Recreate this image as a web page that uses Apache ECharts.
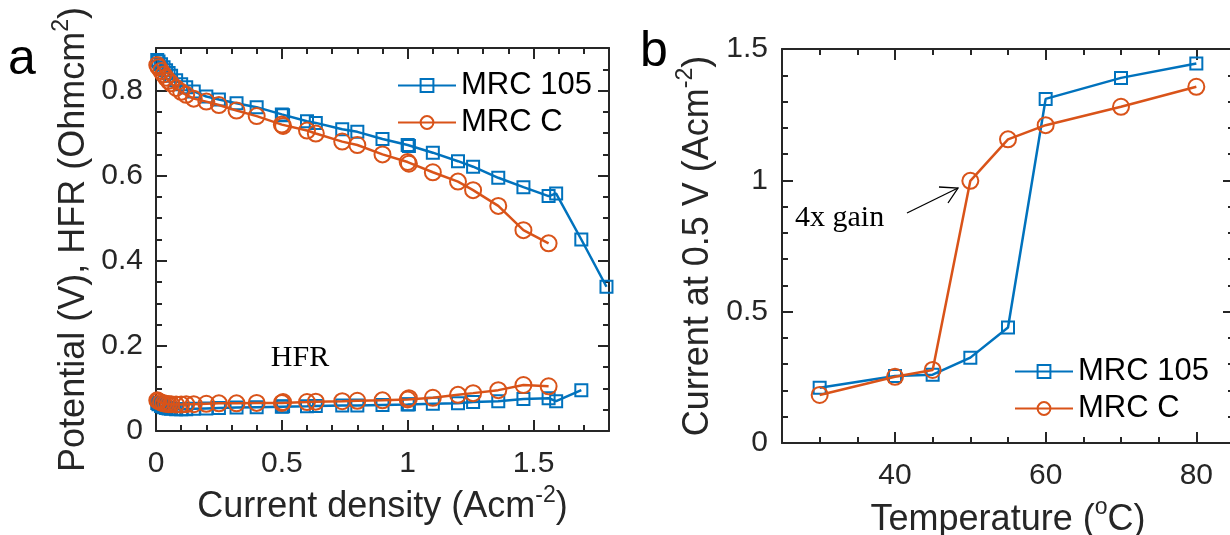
<!DOCTYPE html>
<html><head><meta charset="utf-8">
<script src="https://cdn.jsdelivr.net/npm/echarts@6/dist/echarts.min.js"></script>
<style>html,body{margin:0;padding:0;background:#fff}#c{width:1230px;height:535px}</style>
</head><body><div id="c"></div>
<script>
// ---------- data: panel a (polarization + HFR) ----------
const j105 = [0.005,0.01,0.02,0.03,0.04,0.05,0.06,0.08,0.1,0.12,0.15,0.2,0.25,0.32,0.4,0.5,0.505,0.6,0.635,0.74,0.8,0.9,1.0,1.005,1.1,1.2,1.26,1.36,1.46,1.56,1.59,1.69,1.79];
const v105 = [0.872,0.868,0.862,0.855,0.848,0.841,0.835,0.824,0.815,0.808,0.798,0.786,0.779,0.770,0.761,0.744,0.742,0.728,0.724,0.709,0.703,0.686,0.672,0.670,0.654,0.634,0.621,0.595,0.573,0.552,0.558,0.450,0.339];
const jHfr105 = [0.005,0.01,0.02,0.03,0.04,0.05,0.06,0.08,0.1,0.12,0.15,0.2,0.25,0.32,0.4,0.5,0.505,0.6,0.635,0.74,0.8,0.9,1.0,1.005,1.1,1.2,1.26,1.36,1.46,1.56,1.59,1.69];
const hfr105 = [0.066,0.063,0.059,0.056,0.054,0.053,0.052,0.051,0.051,0.051,0.052,0.053,0.054,0.055,0.056,0.057,0.058,0.058,0.059,0.060,0.060,0.061,0.062,0.063,0.064,0.065,0.068,0.070,0.075,0.077,0.070,0.096];
const jC = [0.005,0.01,0.02,0.03,0.04,0.05,0.06,0.08,0.1,0.12,0.15,0.2,0.25,0.32,0.4,0.5,0.505,0.6,0.635,0.74,0.8,0.9,1.0,1.005,1.1,1.2,1.26,1.36,1.46,1.56];
const vC = [0.860,0.855,0.846,0.838,0.830,0.823,0.817,0.806,0.797,0.790,0.781,0.774,0.766,0.753,0.740,0.720,0.717,0.706,0.699,0.680,0.672,0.650,0.632,0.628,0.608,0.586,0.566,0.529,0.472,0.441];
const hfrC = [0.072,0.070,0.067,0.065,0.064,0.063,0.063,0.062,0.062,0.063,0.063,0.064,0.065,0.065,0.066,0.066,0.068,0.068,0.069,0.070,0.071,0.072,0.074,0.077,0.078,0.085,0.089,0.096,0.108,0.105];
// ---------- data: panel b (current at 0.5 V vs temperature) ----------
const temps = [30,40,45,50,55,60,70,80];
const i105 = [0.21,0.255,0.26,0.325,0.44,1.31,1.39,1.445];
const iC = [0.183,0.252,0.278,0.998,1.156,1.21,1.28,1.356];
// ---------- ticks ----------
const aXMajor = [0,0.5,1,1.5];
const aXMinor = [0.1,0.2,0.3,0.4,0.6,0.7,0.8,0.9,1.1,1.2,1.3,1.4,1.6,1.7];
const aYMajor = [0,0.2,0.4,0.6,0.8];
const aYMinor = [0.05,0.1,0.15,0.25,0.3,0.35,0.45,0.5,0.55,0.65,0.7,0.75,0.85];
const bXMajor = [40,60,80];
const bXMinor = [30,35,45,50,55,65,70,75];
const bYMajor = [0,0.5,1,1.5];
const bYMinor = [0.1,0.2,0.3,0.4,0.6,0.7,0.8,0.9,1.1,1.2,1.3,1.4];
const names = ['MRC 105','MRC C'];

const AX = '#262626';
const BLUE = '#0072BD', ORANGE = '#D95319';
const SANS = 'Liberation Sans';
const pair = (xs, ys) => xs.map((x, i) => [x, ys[i]]);
const supRich = {
  m: { fontSize: 36, lineHeight: 40, color: AX, fontFamily: SANS },
  s: { fontSize: 23, lineHeight: 23, padding: [0, 0, 24, 0], color: AX, fontFamily: SANS }
};

function ax(grid, min, max, pos, ticks, len, opts) {
  opts = opts || {};
  const o = {
    type: 'value', gridIndex: grid, min: min, max: max, position: pos,
    axisLine: { show: !!opts.line, onZero: false, lineStyle: { color: AX, width: 2 } },
    axisTick: { show: true, inside: true, length: len, customValues: ticks, lineStyle: { color: AX, width: 2 } },
    axisLabel: { show: !!opts.labels, customValues: ticks, fontSize: 30, color: AX, fontFamily: SANS, margin: opts.margin || 14 },
    splitLine: { show: false }, axisPointer: { show: false }
  };
  if (opts.name) {
    o.name = opts.name; o.nameLocation = 'middle'; o.nameGap = opts.nameGap;
    o.nameTextStyle = { fontSize: 36, color: AX, fontFamily: SANS, rich: supRich };
  }
  return o;
}

const xAxis = [
  ax(0, 0, 1.8, 'bottom', aXMajor, 11, { line: true, labels: true, margin: 18, name: '{m|Current density (Acm}{s|-2}{m|)}', nameGap: 50 }),
  ax(0, 0, 1.8, 'bottom', aXMinor, 6),
  ax(0, 0, 1.8, 'top', aXMajor, 11, { line: true }),
  ax(0, 0, 1.8, 'top', aXMinor, 6),
  ax(1, 25, 85, 'bottom', bXMajor, 11, { line: true, labels: true, margin: 18, name: '{m|Temperature (}{s|o}{m|C)}', nameGap: 57 }),
  ax(1, 25, 85, 'bottom', bXMinor, 6),
  ax(1, 25, 85, 'top', bXMajor, 11, { line: true }),
  ax(1, 25, 85, 'top', bXMinor, 6)
];
const yAxis = [
  ax(0, 0, 0.9, 'left', aYMajor, 11, { line: true, labels: true, margin: 13, name: '{m|Potential (V), HFR (Ohmcm}{s|2}{m|)}', nameGap: 60 }),
  ax(0, 0, 0.9, 'left', aYMinor, 6),
  ax(0, 0, 0.9, 'right', aYMajor, 11, { line: true }),
  ax(0, 0, 0.9, 'right', aYMinor, 6),
  ax(1, 0, 1.5, 'left', bYMajor, 11, { line: true, labels: true, margin: 14, name: '{m|Current at 0.5 V (Acm}{s|-2}{m|)}', nameGap: 64 }),
  ax(1, 0, 1.5, 'left', bYMinor, 6),
  ax(1, 0, 1.5, 'right', bYMajor, 11, { line: true }),
  ax(1, 0, 1.5, 'right', bYMinor, 6)
];

function ser(name, data, xi, yi, isC) {
  const c = isC ? ORANGE : BLUE;
  return {
    name: name, type: 'line', xAxisIndex: xi, yAxisIndex: yi, data: data,
    symbol: isC ? 'circle' : 'rect', symbolSize: isC ? 16 : 12,
    showSymbol: true, clip: false, animation: false, z: isC ? 3 : 2,
    lineStyle: { color: c, width: 2.5 },
    itemStyle: { color: 'rgba(255,255,255,0)', borderColor: c, borderWidth: 2 }
  };
}

const legendBase = {
  orient: 'vertical', itemWidth: 58, itemHeight: 16, itemGap: 6, data: names,
  textStyle: { fontSize: 31, color: '#000', fontFamily: SANS, lineHeight: 30 },
  selectedMode: false
};

const option = {
  backgroundColor: '#fff',
  animation: false,
  textStyle: { fontFamily: SANS },
  grid: [
    { left: 156, top: 48, width: 453, height: 383, containLabel: false, outerBoundsMode: 'none' },
    { left: 782, top: 49, width: 452, height: 394, containLabel: false, outerBoundsMode: 'none' }
  ],
  xAxis: xAxis,
  yAxis: yAxis,
  legend: [
    Object.assign({ left: 392, top: 65 }, legendBase),
    Object.assign({ left: 1009, top: 351 }, legendBase)
  ],
  series: [
    ser('MRC 105', pair(j105, v105), 0, 0, false),
    ser('MRC C', pair(jC, vC), 0, 0, true),
    ser('MRC 105', pair(jHfr105, hfr105), 0, 0, false),
    ser('MRC C', pair(jC, hfrC), 0, 0, true),
    ser('MRC 105', pair(temps, i105), 4, 4, false),
    ser('MRC C', pair(temps, iC), 4, 4, true)
  ],
  graphic: [
    { type: 'text', x: 8, y: 60, style: { text: 'a', font: '50px "Liberation Sans"', fill: '#000', verticalAlign: 'middle' } },
    { type: 'text', x: 640, y: 52, style: { text: 'b', font: '50px "Liberation Sans"', fill: '#000', verticalAlign: 'middle' } },
    { type: 'text', x: 300, y: 358, style: { text: 'HFR', font: '30px "Liberation Serif"', fill: '#000', align: 'center', verticalAlign: 'middle' } },
    { type: 'text', x: 795, y: 218, style: { text: '4x gain', font: '30px "Liberation Serif"', fill: '#000', verticalAlign: 'middle' } },
    { type: 'line', shape: { x1: 907, y1: 213, x2: 958, y2: 188 }, style: { stroke: '#000', lineWidth: 1.3 } },
    { type: 'polyline', shape: { points: [[939, 187], [958, 188], [948, 203]] }, style: { stroke: '#000', fill: null, lineWidth: 1.3 } }
  ]
};

const chart = echarts.init(document.getElementById('c'), null, { renderer: 'canvas' });
chart.setOption(option);
</script></body></html>
